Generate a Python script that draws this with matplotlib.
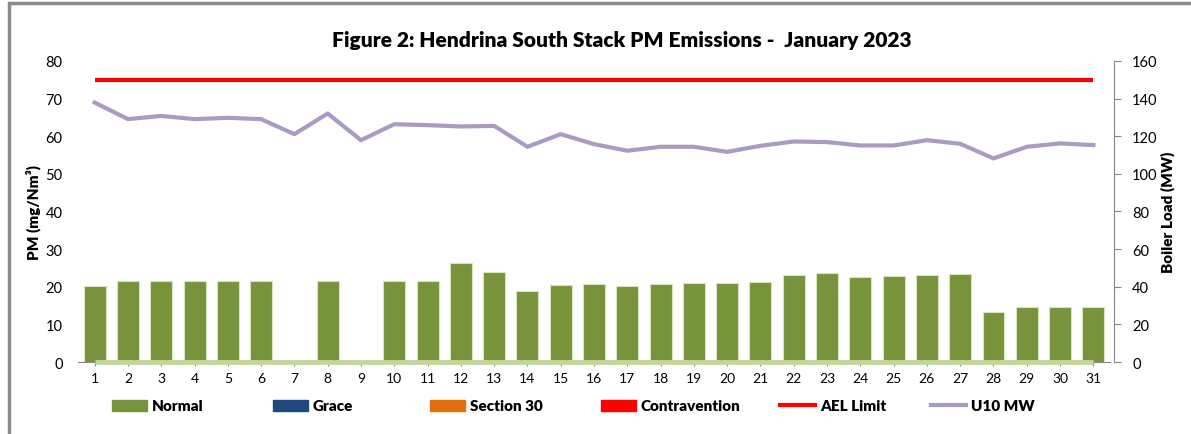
import numpy as np
import matplotlib.pyplot as plt
from matplotlib.patches import Patch, Rectangle
from matplotlib.lines import Line2D

plt.rcParams['font.family'] = ['Lato', 'DejaVu Sans']

days = np.arange(1, 32)
pm_normal = [20.2, 21.6, 21.6, 21.6, 21.6, 21.6, 0, 21.6, 0, 21.6,
             21.6, 26.3, 23.9, 19.0, 20.4, 20.6, 20.2, 20.6, 21.0, 21.1,
             21.3, 23.1, 23.6, 22.5, 22.9, 23.0, 23.3, 13.4, 14.7, 14.7, 14.7]
pm_grace = [0] * 31
pm_section30 = [0] * 31
pm_contravention = [0] * 31
ael_limit = [75] * 31
u10_mw = [137.9, 129.1, 130.8, 129.1, 129.8, 129.1, 121.1, 132.1, 117.9, 126.4,
          125.9, 125.2, 125.5, 114.4, 121.1, 115.8, 112.3, 114.4, 114.4, 111.7,
          114.9, 117.2, 116.9, 115.1, 115.1, 117.9, 116.0, 108.2, 114.4, 116.2, 115.3]

green = '#77933c'
grace_col = '#1f497d'
s30_col = '#e46c0a'
red = '#ff0000'
purple = '#a99bc4'
zero_col = '#c3d69b'
gray = '#868686'

fig = plt.figure(figsize=(11.91, 4.35), dpi=100)
ax = fig.add_axes([0.0655, 0.1655, 0.8665, 0.692])

ax.bar(days, pm_normal, width=0.66, color=green, edgecolor='#d8e4bc', linewidth=0.8, zorder=2)
ax.bar(days, pm_grace, width=0.66, color=grace_col, zorder=2)
ax.bar(days, pm_section30, width=0.66, color=s30_col, zorder=2)
ax.bar(days, pm_contravention, width=0.66, color=red, zorder=2)
ax.plot(days, pm_contravention, color=zero_col, lw=3.5, zorder=4, solid_capstyle='butt', clip_on=False)
ax.plot(days, ael_limit, color=red, lw=3, zorder=4, solid_capstyle='butt')

ax.set_xlim(0.5, 31.5)
ax.set_ylim(0, 80)
ax.set_yticks(range(0, 81, 10))
ax.set_xticks(days)
ax.set_xticklabels([str(d) for d in days])
for s in ['top', 'right', 'left']:
    ax.spines[s].set_visible(False)
ax.spines['bottom'].set_color(gray)
ax.spines['bottom'].set_zorder(1)
ax.tick_params(axis='y', length=0, labelsize=10.5, pad=11)
ax.tick_params(axis='x', length=3, color=gray, labelsize=10, pad=4)
ax.set_ylabel('PM (mg/Nm³)', fontsize=11, fontweight='heavy')
ax.yaxis.set_label_coords(-0.036, 0.5)

ax2 = ax.twinx()
ax2.plot(days, u10_mw, color=purple, lw=3, zorder=5)
ax2.set_ylim(0, 160)
ax2.set_yticks(range(0, 161, 20))
for s in ['top', 'left', 'bottom']:
    ax2.spines[s].set_visible(False)
ax2.spines['right'].set_color(gray)
ax2.spines['right'].set_position(('outward', 3))
ax2.tick_params(axis='y', length=5, color=gray, labelsize=10.5, pad=8)
ax2.set_ylabel('Boiler Load (MW)', fontsize=11, fontweight='heavy')
ax2.yaxis.set_label_coords(1.049, 0.5)

fig.text(0.522, 0.908, 'Figure 2: Hendrina South Stack PM Emissions -  January 2023',
         ha='center', va='center', fontsize=15, fontweight='heavy')

handles = [Patch(color=green), Patch(color=grace_col), Patch(color=s30_col), Patch(color=red),
           Line2D([], [], color=red, lw=3), Line2D([], [], color=purple, lw=3)]
labels = ['Normal', 'Grace', 'Section 30', 'Contravention', 'AEL Limit', 'U10 MW']
leg_x = [112, 273, 430, 601, 780, 931]
for h, lab, x in zip(handles, labels, leg_x):
    leg = fig.legend([h], [lab], loc='center left', bbox_to_anchor=(x / 1191, 1 - 407 / 435),
                     frameon=False, handlelength=2.3, handleheight=0.7, borderpad=0.0,
                     borderaxespad=0.0, handletextpad=0.3, prop={'weight': 'heavy', 'size': 11})

fig.add_artist(Rectangle((0.0075, -0.05), 1.1, 1.04, transform=fig.transFigure,
                         fill=False, edgecolor='#8c8c8c', lw=2.5))

fig.savefig('out.png', dpi=100)
